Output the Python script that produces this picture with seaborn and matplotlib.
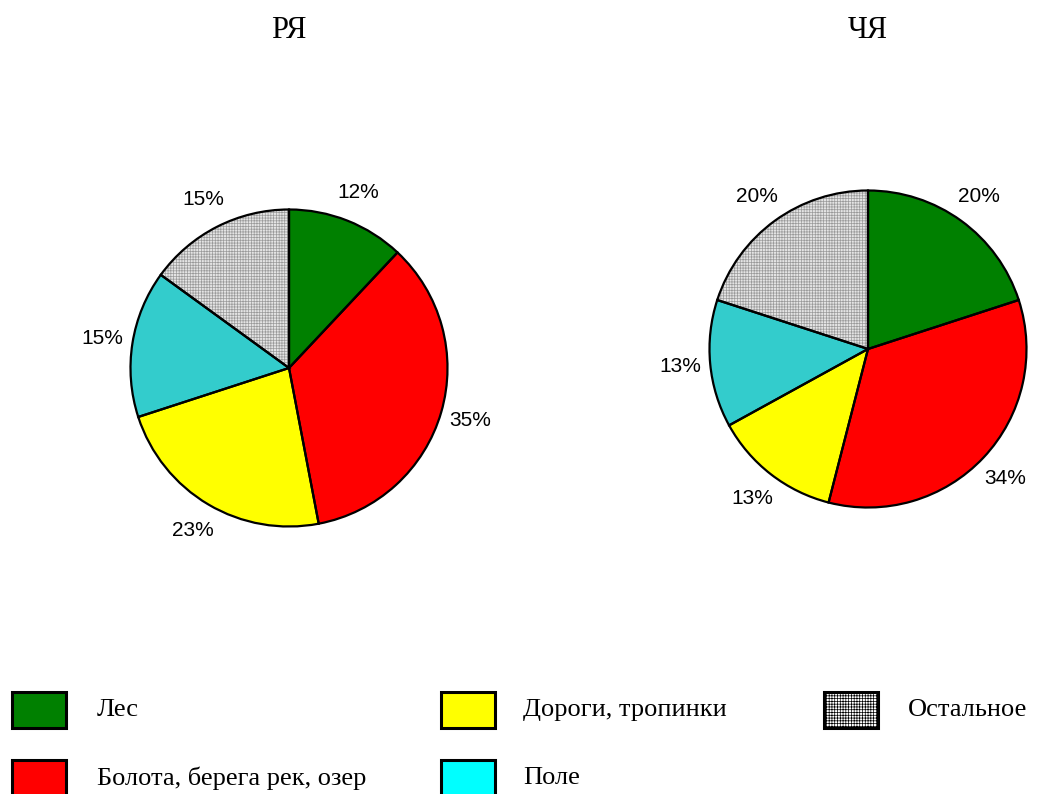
import matplotlib
matplotlib.use("Agg")
import matplotlib.pyplot as plt
from matplotlib.patches import Rectangle
import seaborn as sns

sns.set_theme(style="white")
plt.rcParams["font.family"] = ["Liberation Serif", "DejaVu Serif"]
plt.rcParams["hatch.linewidth"] = 0.5

# Habitat categories and shares (%) for the two groups
categories = ["Лес", "Болота, берега рек, озер", "Дороги, тропинки", "Поле", "Остальное"]
group_titles = ["РЯ", "ЧЯ"]
share_rya = [12, 35, 23, 15, 15]
share_chya = [20, 34, 13, 13, 20]

slice_colors = ["#008000", "#FF0000", "#FFFF00", "#33CCCC", "#E4E4E4"]
legend_colors = ["#008000", "#FF0000", "#FFFF00", "#00FFFF", "#FFFFFF"]
HATCHED = 4  # index of the hatched category

W, H = 1038, 794
fig = plt.figure(figsize=(W / 100, H / 100), dpi=100)
fig.patch.set_facecolor("white")

LIM = 1.4
R_PX = 158.5
side = 2 * LIM * R_PX


def draw_pie(values, title, cx, cy):
    left = (cx - side / 2) / W
    bottom = (H - cy - side / 2) / H
    ax = fig.add_axes([left, bottom, side / W, side / H])

    # filled wedges (no outline), hatched fill for the last category
    wedges, _ = ax.pie(values, colors=slice_colors, startangle=90, counterclock=False,
                       wedgeprops=dict(linewidth=0, edgecolor="none"))
    w = wedges[HATCHED]
    w.set_edgecolor("#9a9a9a")
    w.set_hatch("++++++")
    w.set_linewidth(0)

    # black outlines and percentage labels
    _, _, pct_texts = ax.pie(values, colors=["none"] * len(values), startangle=90,
                             counterclock=False,
                             wedgeprops=dict(linewidth=1.6, edgecolor="black"),
                             autopct=lambda p: f"{p:.0f}%", pctdistance=1.19)
    for t in pct_texts:
        t.set_fontfamily(["Liberation Sans", "DejaVu Sans"])
        t.set_fontsize(15)
        t.set_color("black")

    ax.set_xlim(-LIM, LIM)
    ax.set_ylim(-LIM, LIM)
    ax.set_aspect("equal")
    ax.axis("off")

    fig.text(cx / W, 1 - 30 / H, title, ha="center", va="center", fontsize=22,
             color="black")


draw_pie(share_rya, group_titles[0], 289, 368)
draw_pie(share_chya, group_titles[1], 868, 349)

# legend laid out in three columns, filled column by column
box_x = [12, 441, 824]
text_x = [97, 523, 908]
row_y = [710, 778]
box_w, box_h = 54, 36
for i, (label, color) in enumerate(zip(categories, legend_colors)):
    col, row = divmod(i, 2)
    bx = box_x[col]
    by = row_y[row]
    rect = Rectangle((bx / W, (H - by - box_h / 2) / H), box_w / W, box_h / H,
                     transform=fig.transFigure, facecolor=color, edgecolor="black",
                     linewidth=2.2, hatch="++++++" if i == HATCHED else None)
    fig.patches.append(rect)
    fig.text(text_x[col] / W, 1 - by / H, label, ha="left", va="center",
             fontsize=19, color="black")

fig.savefig("out.png", dpi=100, facecolor="white")
